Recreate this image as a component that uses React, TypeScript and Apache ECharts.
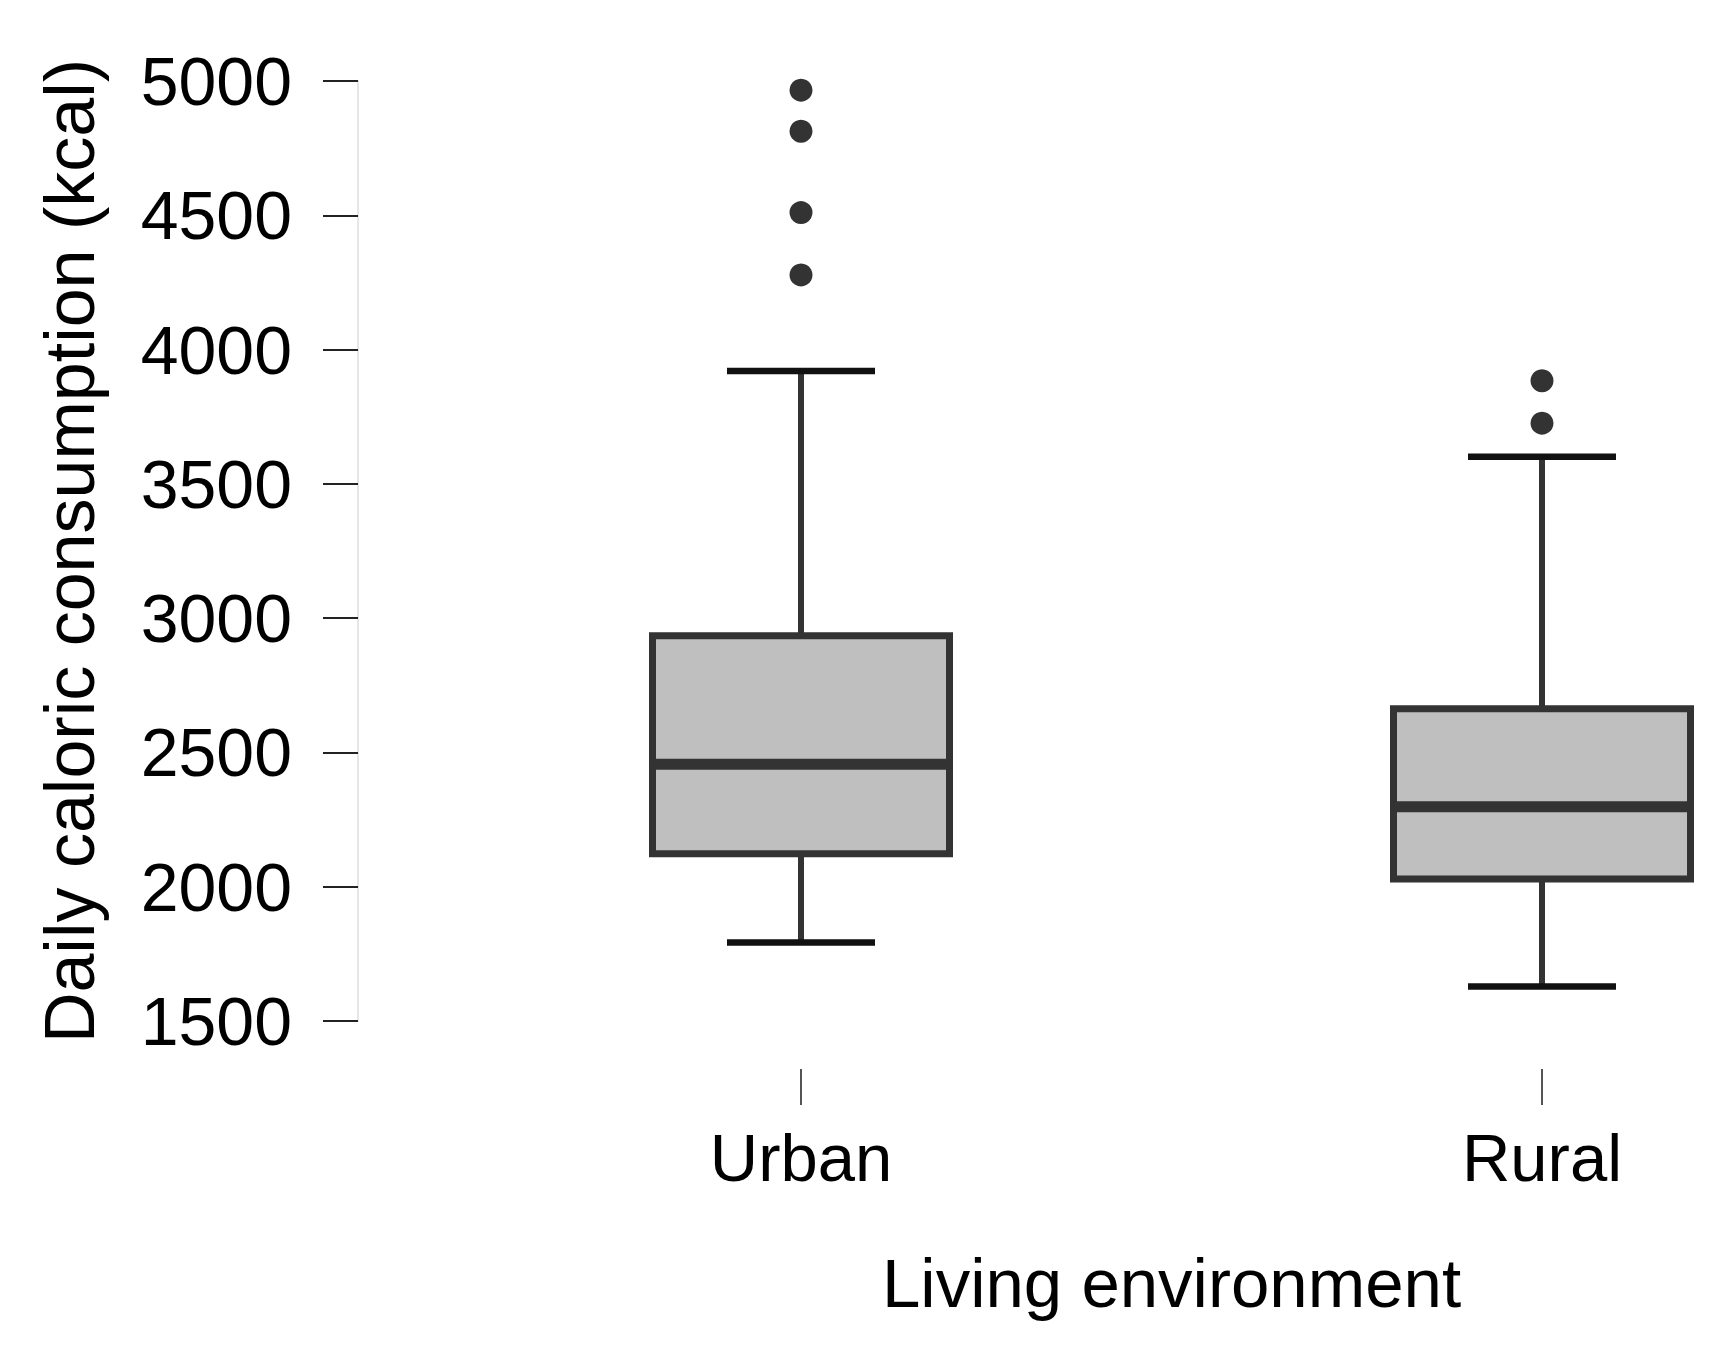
import React, { useEffect, useRef } from "react";
import * as echarts from "echarts";

// ---- data ----
const categories = ["Urban", "Rural"];
const lowerWhisker = [1792, 1628];
const q1 = [2123, 2029];
const median = [2456, 2298];
const q3 = [2934, 2663];
const upperWhisker = [3920, 3601];
const urbanOutliers = [4966, 4813, 4510, 4278];
const ruralOutliers = [3884, 3726];
const yTicks = { min: 1500, max: 5000, step: 500 };

const FONT = "'Liberation Sans', Arial, sans-serif";

export default function App() {
  const ref = useRef<HTMLDivElement>(null);

  useEffect(() => {
    if (!ref.current) return;
    const chart = echarts.init(ref.current, undefined, { renderer: "svg" });

    const boxData = categories.map((_, i) => [
      i,
      lowerWhisker[i],
      q1[i],
      median[i],
      q3[i],
      upperWhisker[i],
    ]);
    const outlierData = [
      ...urbanOutliers.map((v) => [0, v]),
      ...ruralOutliers.map((v) => [1, v]),
    ];

    const BOX_HALF = 148.5;
    const CAP_HALF = 74;
    const dark = "#333333";

    const option: any = {
      animation: false,
      backgroundColor: "#ffffff",
      grid: { left: 801, right: 180, top: 81, bottom: 343, containLabel: false },
      xAxis: {
        type: "category",
        data: categories,
        boundaryGap: false,
        offset: 48,
        axisLine: { show: false },
        axisTick: { show: true, length: 36, lineStyle: { color: "#555555", width: 2 } },
        axisLabel: { fontSize: 67, margin: 55, color: "#000000", fontFamily: FONT },
        splitLine: { show: false },
        name: "Living environment",
        nameLocation: "middle",
        nameGap: 180,
        nameTextStyle: { fontSize: 69, color: "#000000", fontFamily: FONT },
      },
      yAxis: {
        type: "value",
        min: yTicks.min,
        max: yTicks.max,
        interval: yTicks.step,
        offset: 443,
        axisLine: { show: true, lineStyle: { color: "#e6e6e6", width: 2 } },
        axisTick: { show: true, length: 35, lineStyle: { color: "#222222", width: 2 } },
        axisLabel: {
          fontSize: 68,
          margin: 66,
          color: "#000000",
          fontFamily: FONT,
          formatter: (v: number) => String(v),
        },
        splitLine: { show: false },
        name: "Daily caloric consumption (kcal)",
        nameLocation: "middle",
        nameGap: 253,
        nameTextStyle: { fontSize: 70, color: "#000000", fontFamily: FONT },
      },
      series: [
        {
          type: "custom",
          clip: false,
          data: boxData,
          encode: { x: 0, y: [1, 2, 3, 4, 5] },
          renderItem: (params: any, api: any) => {
            const xi = api.value(0);
            const pLow = api.coord([xi, api.value(1)]);
            const pQ1 = api.coord([xi, api.value(2)]);
            const pMed = api.coord([xi, api.value(3)]);
            const pQ3 = api.coord([xi, api.value(4)]);
            const pHigh = api.coord([xi, api.value(5)]);
            const cx = pLow[0];
            return {
              type: "group",
              children: [
                {
                  type: "line",
                  shape: { x1: cx, y1: pQ3[1], x2: cx, y2: pHigh[1] },
                  style: { stroke: dark, lineWidth: 6 },
                },
                {
                  type: "line",
                  shape: { x1: cx, y1: pQ1[1], x2: cx, y2: pLow[1] },
                  style: { stroke: dark, lineWidth: 6 },
                },
                {
                  type: "line",
                  shape: { x1: cx - CAP_HALF, y1: pHigh[1], x2: cx + CAP_HALF, y2: pHigh[1] },
                  style: { stroke: "#111111", lineWidth: 6.5 },
                },
                {
                  type: "line",
                  shape: { x1: cx - CAP_HALF, y1: pLow[1], x2: cx + CAP_HALF, y2: pLow[1] },
                  style: { stroke: "#111111", lineWidth: 6.5 },
                },
                {
                  type: "rect",
                  shape: {
                    x: cx - BOX_HALF,
                    y: pQ3[1],
                    width: BOX_HALF * 2,
                    height: pQ1[1] - pQ3[1],
                  },
                  style: { fill: "#bfbfbf", stroke: dark, lineWidth: 7 },
                },
                {
                  type: "line",
                  shape: { x1: cx - BOX_HALF, y1: pMed[1], x2: cx + BOX_HALF, y2: pMed[1] },
                  style: { stroke: dark, lineWidth: 11 },
                },
              ],
            };
          },
        },
        {
          type: "scatter",
          data: outlierData,
          symbol: "circle",
          symbolSize: 23,
          itemStyle: { color: dark, opacity: 1 },
          clip: false,
        },
      ],
    };

    chart.setOption(option);
    return () => chart.dispose();
  }, []);

  return (
    <div
      ref={ref}
      style={{ position: "fixed", left: 0, top: 0, width: 1722, height: 1364, background: "#fff" }}
    />
  );
}
